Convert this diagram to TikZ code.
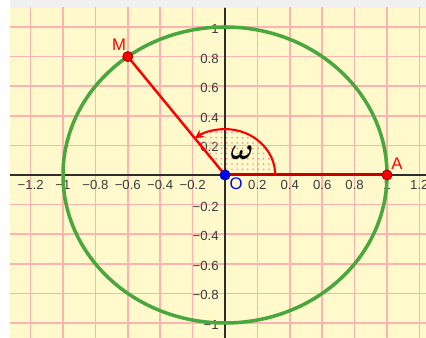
\documentclass[tikz,border=0pt]{standalone}
\usepackage{amsmath}
\usepackage{fontspec}
\newfontfamily\axisfont{Liberation Sans}
\usetikzlibrary{arrows.meta,patterns}

\definecolor{paper}{RGB}{255,249,204}
\definecolor{gridpink}{RGB}{255,178,178}
\definecolor{axisgray}{RGB}{45,45,45}
\definecolor{labelgray}{RGB}{60,60,60}
\definecolor{circlegreen}{RGB}{72,168,62}
\definecolor{darkred}{RGB}{200,0,0}
\definecolor{pointblue}{RGB}{0,0,255}

\begin{document}
\begin{tikzpicture}[x=3.24cm,y=2.96cm,
  gridline/.style={draw=gridpink,line width=0.85pt},
  axis/.style={draw=axisgray,line width=1.1pt},
  tick/.style={font=\axisfont\fontsize{7.5}{8}\selectfont,text=labelgray,inner sep=0pt},
  pointlabel/.style={font=\axisfont\fontsize{9.5}{10}\selectfont,inner sep=0pt},
  dot/.style={circle,minimum size=5.7pt,inner sep=0pt,line width=0.5pt}]
  \useasboundingbox (-1.3889,-1.1014) rectangle (1.2407,1.1824);
  \fill[white] (-1.3889,-1.1014) rectangle (1.2407,1.1824);
  \fill[gray!12] (-1.3272,1.1284) rectangle (1.2407,1.1824);
  \fill[paper] (-1.3272,-1.1014) rectangle (1.2407,1.1284);
  \begin{scope}
    \clip (-1.3272,-1.1014) rectangle (1.2407,1.1284);
    \foreach \x in {-1.2,-1,...,1.21}
      \draw[gridline] (\x,-1.2) -- (\x,1.2);
    \foreach \y in {-1,-0.8,...,1.01}
      \draw[gridline] (-1.4,\y) -- (1.3,\y);
  \end{scope}
  \coordinate (xstart) at (-1.3272,0);
  \coordinate (xend) at (1.2407,0);
  \coordinate (ystart) at (0,-1.1014);
  \coordinate (yend) at (0,1.1284);
  \draw[axis] (xstart) -- (xend);
  \draw[axis] (ystart) -- (yend);
  \foreach \x/\t [count=\i] in {-1.2/−1.2,-1/−1,-0.8/−0.8,-0.6/−0.6,-0.4/−0.4,-0.2/−0.2,0.2/0.2,0.4/0.4,0.6/0.6,0.8/0.8,1/1,1.2/1.2}
    \node[tick] (xt\i) at (\x,-0.068) {\t};
  \foreach \y/\t [count=\i] in {1/1,0.8/0.8,0.6/0.6,0.4/0.4,0.2/0.2,-0.2/−0.2,-0.4/−0.4,-0.6/−0.6,-0.8/−0.8,-1/−1}
    \node[tick,anchor=east] (yt\i) at (-0.037,\y-0.0135) {\t};
  \draw[circlegreen,line width=2pt] (0,0) circle (1);
  \pgfmathsetmacro{\angM}{atan2(0.8,-0.6)}
  \coordinate (O) at (0,0);
  \coordinate (A) at (1,0);
  \coordinate (M) at (-0.6,0.8);
  \fill[pattern=dots,pattern color=red!45] (O) -- (0.31,0) arc[start angle=0,end angle=\angM,radius=0.31] -- cycle;
  \draw[darkred,line width=1.7pt] (O) -- (A);
  \draw[red,line width=1.4pt] (O) -- (M);
  \draw[red,line width=1.2pt,-{Stealth[length=5pt,width=5pt]}] (0.31,0) arc[start angle=0,end angle=\angM,radius=0.31];
  \node[dot,fill=red,draw=red!60!black] (Mdot) at (M) {};
  \node[dot,fill=red,draw=red!60!black] (Adot) at (A) {};
  \node[dot,fill=pointblue,draw=pointblue!60!black] (Odot) at (O) {};
  \node[pointlabel,text=red] (Mlabel) at (-0.654,0.878) {M};
  \node[pointlabel,text=red] (Alabel) at (1.062,0.074) {A};
  \node[pointlabel,text=pointblue] (Olabel) at (0.068,-0.061) {O};
  \node[font=\fontsize{16}{16}\selectfont,inner sep=0pt] (omegalabel) at (0.105,0.149) {$\boldsymbol{\omega}$};
\end{tikzpicture}
\end{document}
